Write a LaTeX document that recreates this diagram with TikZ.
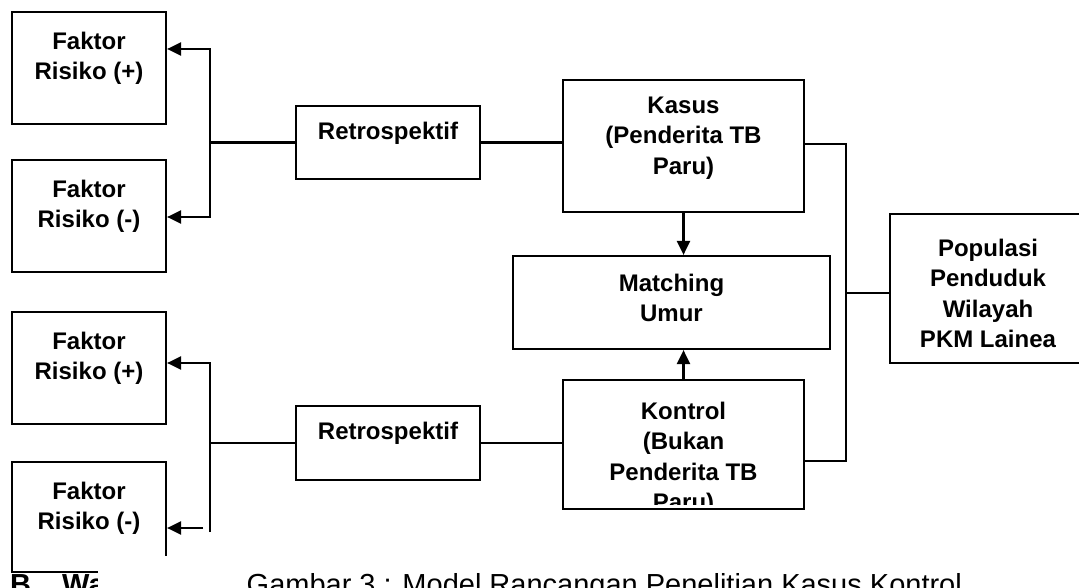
\documentclass[tikz,border=0pt]{standalone}
\usepackage{fontspec}
\setmainfont{Liberation Sans}
\usetikzlibrary{arrows.meta}

\begin{document}
\begin{tikzpicture}
[   x=1pt, y=-1pt,
    box/.style={draw, line width=2.2pt, inner sep=0},
    txt/.style={font=\fontsize{24}{30.3}\selectfont\bfseries, align=center, inner sep=0, anchor=north},
    wire/.style={line width=2.2pt},
    arr/.style={line width=2.2pt, -{Triangle[length=14pt, width=13pt]}}
]
    \useasboundingbox (0,0) rectangle (1079,588);

    % faktor risiko
    \node[box, minimum width=154, minimum height=112,
        label={[txt, yshift=-21]north:{Faktor\\Risiko (+)}}] (fp1) at (89,68) {};
    \node[box, minimum width=154, minimum height=112,
        label={[txt, yshift=-21]north:{Faktor\\Risiko (-)}}] (fn1) at (89,216) {};
    \node[box, minimum width=154, minimum height=112,
        label={[txt, yshift=-21]north:{Faktor\\Risiko (+)}}] (fp2) at (89,368) {};
    \node[box, minimum width=154, minimum height=110,
        label={[txt, yshift=-21]north:{Faktor\\Risiko (-)}}] (fn2) at (89,517) {};

    % retrospektif
    \node[box, minimum width=184, minimum height=73,
        label={[txt, yshift=-17]north:Retrospektif}] (retro1) at (388,142.5) {};
    \node[box, minimum width=184, minimum height=74,
        label={[txt, yshift=-17]north:Retrospektif}] (retro2) at (388,443) {};

    % kasus, matching, kontrol
    \node[box, minimum width=241, minimum height=132,
        label={[txt, yshift=-18]north:{Kasus\\(Penderita TB\\Paru)}}] (kasus) at (683.5,146) {};
    \node[box, minimum width=317, minimum height=93,
        label={[txt, yshift=-19]north:{Matching\\Umur}}] (match) at (671.5,302.5) {};
    \node[box, minimum width=241, minimum height=129,
        label={[txt, yshift=-23]north:{Kontrol\\(Bukan\\Penderita TB\\Paru)}}] (kontrol) at (683.5,444.5) {};
    % potong teks di bawah kotak
    \fill[white] ([xshift=2.3pt, yshift=5pt]kontrol.south west) rectangle ([xshift=-2.3pt, yshift=-14pt]kontrol.south east);
    \draw[wire] ([xshift=1.1pt, yshift=1.1pt]kontrol.south west) -- ([xshift=-1.1pt, yshift=1.1pt]kontrol.south east);

    % populasi
    \node[box, minimum width=196, minimum height=149,
        label={[txt, yshift=-26]north:{Populasi\\Penduduk\\Wilayah\\PKM Lainea}}] (pop) at (988,288.5) {};

    % titik cabang
    \coordinate (fk1) at (210,49);
    \coordinate (fk2) at (210,217);
    \coordinate (fk3) at (210,363);
    \coordinate (fk4) at (210,532);
    \coordinate (fk5) at (203,528);
    \coordinate (rk1) at (846,144);
    \coordinate (rk2) at (846,461);
    \coordinate (rk3) at (846,293);

    % cabang atas
    \draw[wire] (retro1.west) -- (retro1.west -| fk1);
    \draw[arr] (fk2) -- (fk1) -- (fk1 -| fp1.east);
    \draw[arr] (fk1) -- (fk2) -- (fk2 -| fn1.east);
    \draw[wire] (retro1.east) -- (retro1.east -| kasus.west);

    % cabang bawah
    \draw[wire] (retro2.west) -- (retro2.west -| fk3);
    \draw[arr] (fk4) -- (fk3) -- (fk3 -| fp2.east);
    \draw[arr] (fk5) -- (fk5 -| fn2.east);
    \draw[wire] (retro2.east) -- (retro2.east -| kontrol.west);

    % ke matching
    \draw[arr] (kasus.south) -- (kasus.south |- match.north);
    \draw[arr] (kontrol.north) -- (kontrol.north |- match.south);

    % ke populasi
    \draw[wire] (kasus.east |- rk1) -- (rk1) -- (rk2) -- (rk2 -| kontrol.east);
    \draw[wire] (rk3) -- (rk3 -| pop.west);

    % keterangan
    \node[anchor=base west, inner sep=0, font=\fontsize{29}{35}\selectfont\bfseries] (sub) at (10,594) {B.\hspace{23pt}Wa};
    \fill[white] (98,556) rectangle (1085,600);
    \node[anchor=base west, inner sep=0, font=\fontsize{29}{35}\selectfont] (caption) at (246.5,594)
        {Gambar 3 : Model Rancangan Penelitian Kasus Kontrol};
\end{tikzpicture}
\end{document}
